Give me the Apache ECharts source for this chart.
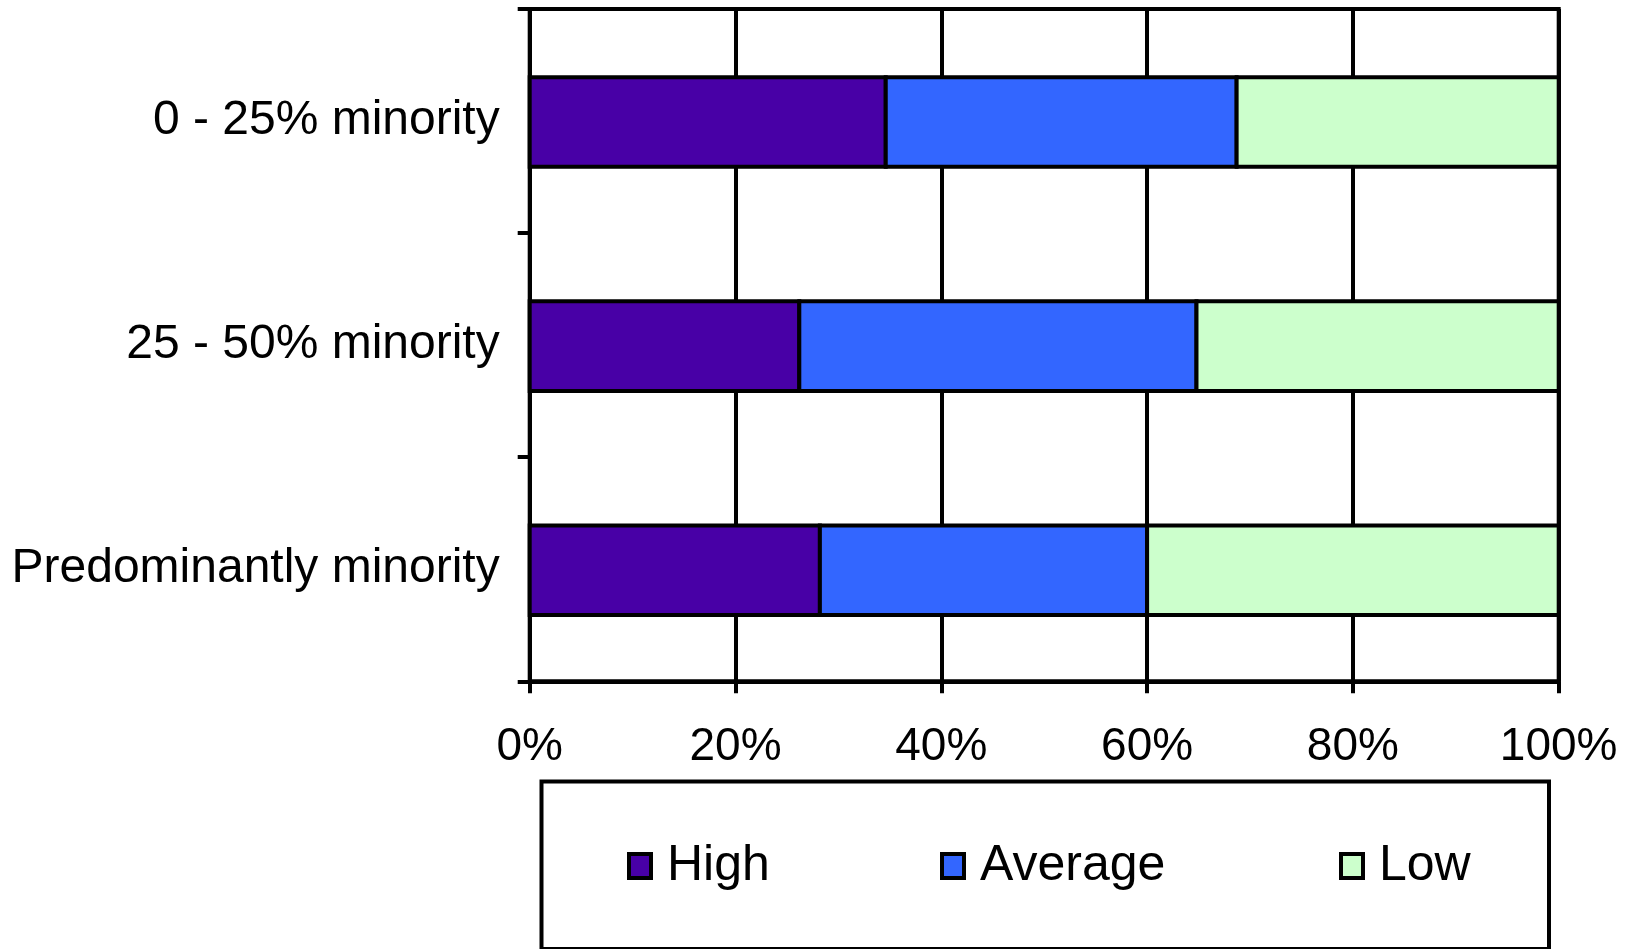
<!DOCTYPE html>
<html>
<head>
<meta charset="utf-8">
<title>Performance by school minority share</title>
<script src="https://cdn.jsdelivr.net/npm/echarts@6/dist/echarts.min.js"></script>
<style>
  html, body { margin: 0; padding: 0; background: #fff; }
  #chart { width: 1629px; height: 949px; }
</style>
</head>
<body>
<div id="chart"></div>
<script>
// School groups, top to bottom
const categories = ['0 - 25% minority', '25 - 50% minority', 'Predominantly minority'];

// Share of schools in each performance band (percent)
const high = [34.6, 26.2, 28.2];
const average = [34.1, 38.6, 31.8];
const low = [31.3, 35.2, 40.0];

const seriesNames = ['High', 'Average', 'Low'];
const seriesColors = ['#4800A6', '#3366FF', '#CCFFCC'];

const FONT = '"Liberation Sans", Arial, Helvetica, sans-serif';
const LINE_W = 4;
const BAR_RATIO = 0.40; // bar thickness as a share of the category band

const chart = echarts.init(document.getElementById('chart'), null, { renderer: 'canvas' });

const valuesBySeries = [high, average, low];

// Stack the segments: each item is [categoryIndex, start, end]
const running = categories.map(() => 0);
const stackedData = valuesBySeries.map(vals =>
  vals.map((v, c) => {
    const start = running[c];
    running[c] += v;
    return [c, start, running[c]];
  })
);

// Rectangles with a centred outline, so touching segments share one border
function makeRenderItem(color) {
  return function (params, api) {
    const cat = api.value(0);
    const p0 = api.coord([api.value(1), cat]);
    const p1 = api.coord([api.value(2), cat]);
    const h = api.size([0, 1])[1] * BAR_RATIO;
    return {
      type: 'rect',
      shape: { x: p0[0], y: p0[1] - h / 2 + 1, width: p1[0] - p0[0], height: h },
      style: { fill: color, stroke: '#000', lineWidth: LINE_W }
    };
  };
}

// One legend per series so each entry can sit at its own spot inside the box
function makeLegend(i, left) {
  return {
    show: true,
    data: [seriesNames[i]],
    left: left,
    top: 841,
    padding: 0,
    icon: 'rect',
    itemWidth: 22,
    itemHeight: 24,
    itemStyle: { color: seriesColors[i], borderColor: '#000', borderWidth: LINE_W },
    textStyle: {
      fontFamily: FONT,
      fontSize: 50,
      color: '#000',
      padding: [0, 0, 0, 11]
    },
    selectedMode: false
  };
}

const option = {
  backgroundColor: '#fff',
  animation: false,
  grid: {
    left: 529.7,
    top: 9,
    width: 1029,
    height: 672.3,
    show: true,
    borderColor: '#000',
    borderWidth: LINE_W,
    backgroundColor: 'transparent'
  },
  xAxis: {
    type: 'value',
    min: 0,
    max: 100,
    interval: 20,
    axisLine: { show: true, lineStyle: { color: '#000', width: LINE_W } },
    axisTick: { show: true, length: 12, lineStyle: { color: '#000', width: LINE_W } },
    axisLabel: {
      formatter: '{value}%',
      fontFamily: FONT,
      fontSize: 46,
      color: '#000',
      margin: 43
    },
    splitLine: { show: true, lineStyle: { color: '#000', width: LINE_W } }
  },
  yAxis: {
    type: 'category',
    data: categories,
    inverse: true,
    axisLine: { show: true, lineStyle: { color: '#000', width: LINE_W } },
    axisTick: { show: true, length: 12, alignWithLabel: false, lineStyle: { color: '#000', width: LINE_W } },
    axisLabel: {
      fontFamily: FONT,
      fontSize: 48,
      color: '#000',
      margin: 30
    },
    splitLine: { show: false }
  },
  legend: [makeLegend(0, 627), makeLegend(1, 940), makeLegend(2, 1339)],
  graphic: [{
    type: 'rect',
    shape: { x: 541.5, y: 781.5, width: 1007.5, height: 167.5 },
    style: { fill: 'none', stroke: '#000', lineWidth: LINE_W },
    silent: true
  }],
  series: stackedData.map((data, i) => ({
    name: seriesNames[i],
    type: 'custom',
    data: data,
    encode: { x: [1, 2], y: 0 },
    itemStyle: { color: seriesColors[i] },
    renderItem: makeRenderItem(seriesColors[i]),
    emphasis: { disabled: true }
  }))
};

chart.setOption(option);
</script>
</body>
</html>
